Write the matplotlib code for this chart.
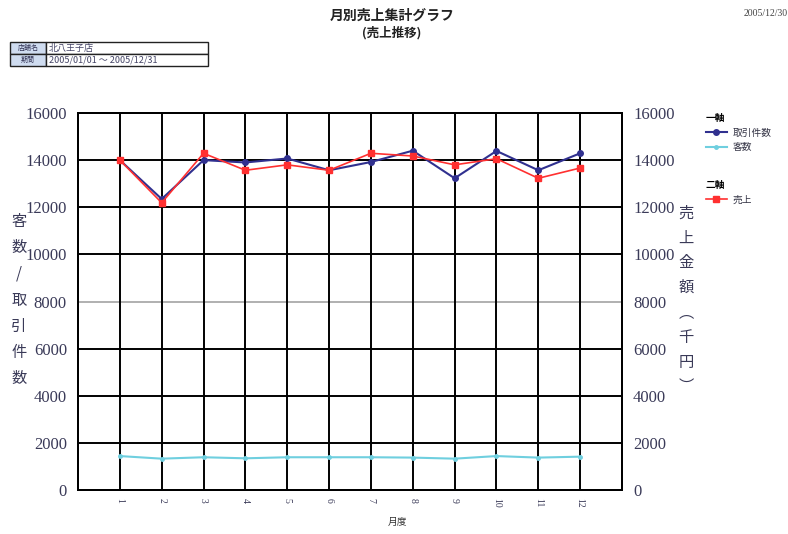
import numpy as np
import matplotlib.pyplot as plt
from matplotlib.lines import Line2D
from matplotlib.patches import Rectangle

plt.rcParams['font.family'] = ['Noto Sans CJK JP', 'DejaVu Sans']

# data
months = [1, 2, 3, 4, 5, 6, 7, 8, 9, 10, 11, 12]
month_labels = [str(m) for m in months]
torihiki = [14000, 12350, 14000, 13900, 14070, 13570, 13920, 14400, 13230, 14390, 13570, 14290]
kyakusu = [1440, 1330, 1390, 1345, 1390, 1390, 1390, 1375, 1330, 1440, 1375, 1415]
uriage = [14000, 12190, 14290, 13570, 13800, 13570, 14290, 14175, 13800, 14060, 13230, 13665]
yticks = [0, 2000, 4000, 6000, 8000, 10000, 12000, 14000, 16000]

navy = '#30308f'
cyan = '#6fcfdf'
red = '#ff3030'
tickc = '#3a3a58'
serif = 'Liberation Serif'

fig = plt.figure(figsize=(7.88, 5.34), dpi=100)
ax = fig.add_axes([78/788, 1-490/534, 544/788, 377/534])
ax2 = ax.twinx()

# grid: black, except the 8000 line
for v in yticks[1:-1]:
    ax.axhline(v, color='#b0b0b0' if v == 8000 else 'black', lw=1.4, zorder=0)
for m in months:
    ax.axvline(m, color='black', lw=1.4, zorder=0)

ax.plot(months, torihiki, color=navy, marker='o', ms=4, lw=1.5, zorder=3)
ax.plot(months, kyakusu, color=cyan, marker='o', ms=2.5, lw=1.5, zorder=3)
ax2.plot(months, uriage, color=red, marker='s', ms=4, lw=1.2, zorder=3)

for a in (ax, ax2):
    a.set_ylim(0, 16000)
    a.set_yticks(yticks)
    a.tick_params(axis='y', length=0, pad=8, labelsize=12, labelcolor=tickc)
    for lab in a.get_yticklabels():
        lab.set_fontfamily(serif)
    for s in a.spines.values():
        s.set_color('black')
        s.set_linewidth(1.4)
ax.set_xlim(0, 13)
ax.set_xticks(months)
ax.set_xticklabels(month_labels, rotation=270, fontsize=7, color=tickc, family=serif)
ax.tick_params(axis='x', length=0, pad=6)

# axis titles, written vertically
fig.text(19/788, 1-300/534, '客\n数\n/\n取\n引\n件\n数', ha='center', va='center',
         fontsize=11, color=tickc, linespacing=1.7)
fig.text(686/788, 1-300/534, '売\n上\n金\n額\n︵\n千\n円\n︶', ha='center', va='center',
         fontsize=11, color=tickc, linespacing=1.6)
fig.text(397/788, 1-522/534, '月度', ha='center', va='center', fontsize=7, color='#333333')

# titles
fig.text(392/788, 1-16/534, '月別売上集計グラフ', ha='center', va='center',
         fontsize=10, fontweight='bold', color='#222222')
fig.text(392/788, 1-33/534, '(売上推移)', ha='center', va='center',
         fontsize=9, fontweight='bold', color='#222222')
fig.text(788/788, 1-14/534, '2005/12/30', ha='right', va='center',
         fontsize=7, color='#444444', family=serif)

# info box top-left
rows = [('店舗名', '北八王子店'), ('期間', '2005/01/01 ～ 2005/12/31')]
x0, x1, x2 = 10, 46, 208
for i, (k, v) in enumerate(rows):
    ytop = 42 + i*12
    fig.patches.append(Rectangle((x0/788, 1-(ytop+12)/534), (x1-x0)/788, 12/534,
                                 transform=fig.transFigure, facecolor='#cfdcf0',
                                 edgecolor='#222222', lw=1))
    fig.patches.append(Rectangle((x1/788, 1-(ytop+12)/534), (x2-x1)/788, 12/534,
                                 transform=fig.transFigure, facecolor='white',
                                 edgecolor='#222222', lw=1))
    fig.text((x0+x1)/2/788, 1-(ytop+6)/534, k, ha='center', va='center',
             fontsize=5, color='#333355')
    fig.text((x1+3)/788, 1-(ytop+6)/534, v, ha='left', va='center',
             fontsize=6.5, color='#444466')

# legends
h1 = [Line2D([], [], color=navy, marker='o', ms=4, lw=1.5),
      Line2D([], [], color=cyan, marker='o', ms=2.5, lw=1.5)]
h2 = [Line2D([], [], color=red, marker='s', ms=4, lw=1.2)]
lkw = dict(frameon=False, fontsize=7, handlelength=2.2, handletextpad=0.6,
           title_fontsize=7, alignment='left', labelspacing=0.5, labelcolor='#333344')
leg1 = fig.legend(h1, ['取引件数', '客数'], title='一軸', loc='upper left',
                  bbox_to_anchor=(697/788, 1-104/534), **lkw)
leg2 = fig.legend(h2, ['売上'], title='二軸', loc='upper left',
                  bbox_to_anchor=(697/788, 1-171/534), **lkw)
for lg in (leg1, leg2):
    lg.get_title().set_fontweight('bold')

fig.savefig('out.png', dpi=100, facecolor='white')
